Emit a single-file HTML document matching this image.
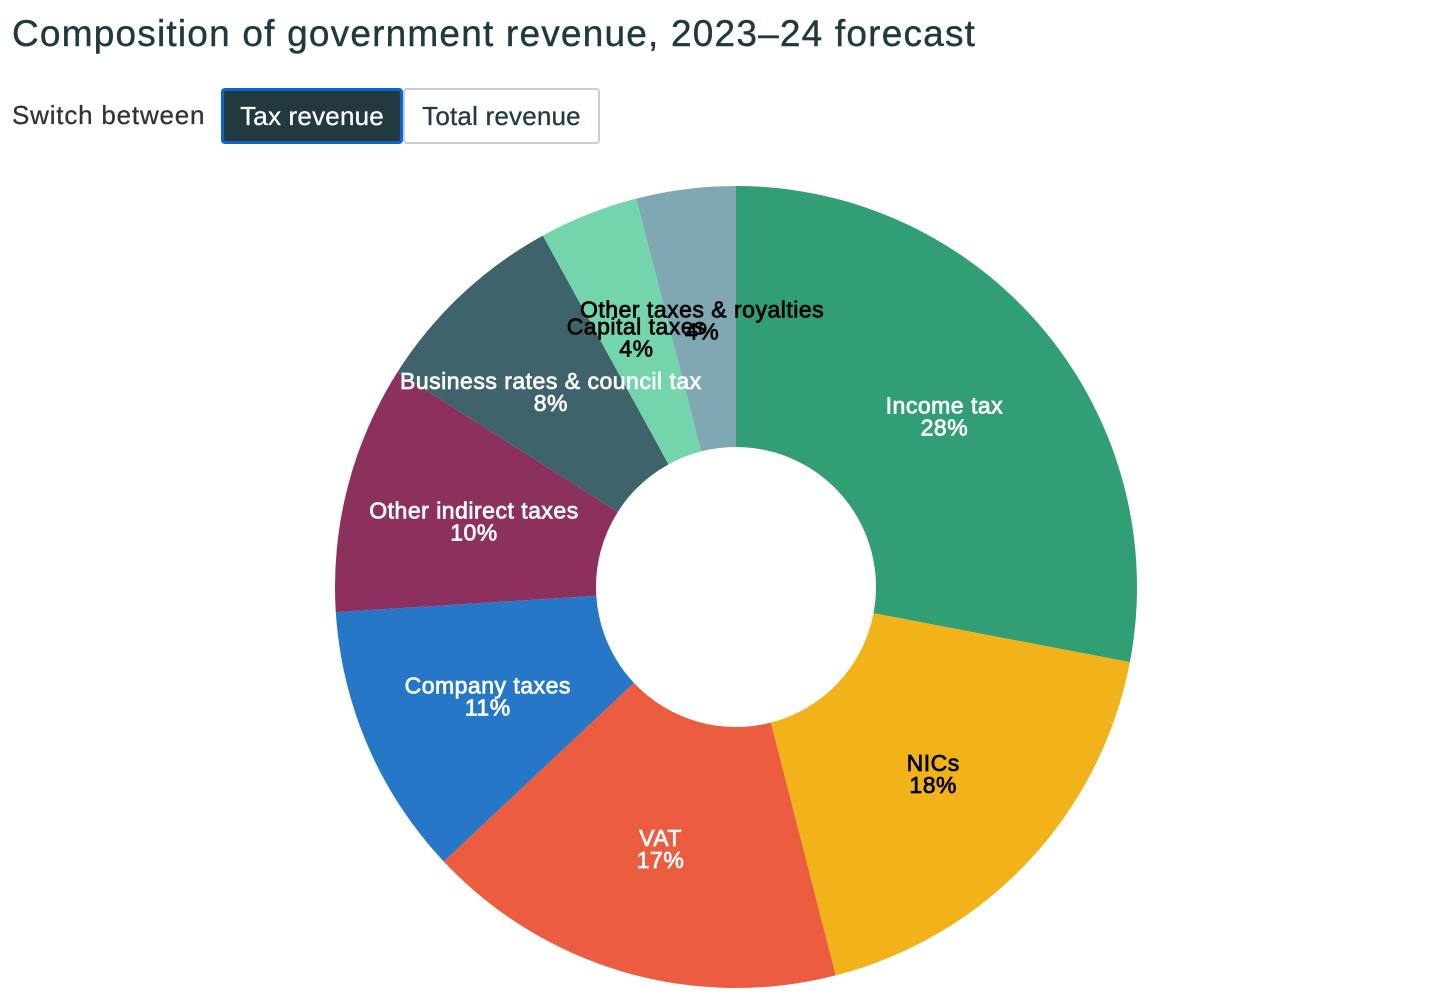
<!DOCTYPE html>
<html><head><meta charset="utf-8"><style>
body{margin:0;width:1452px;height:1008px;background:#fff;font-family:"Liberation Sans",Arial,sans-serif;color:#243b3f;overflow:hidden;position:relative}
h1{position:absolute;left:12px;top:13px;margin:0;font-size:37px;font-weight:normal;color:#1f3a3d;letter-spacing:1.2px;-webkit-text-stroke:0.4px #1f3a3d}
.sw{position:absolute;left:12px;top:100px;font-size:26px;color:#333;letter-spacing:0.8px;-webkit-text-stroke:0.3px #333}
.btn{position:absolute;top:88px;height:56px;box-sizing:border-box;font-size:26px;line-height:52px;text-align:center;border-radius:4px;font-family:"Liberation Sans",Arial,sans-serif;letter-spacing:0.2px}
#b1{left:221px;width:182px;background:#22393d;color:#fff;border:3px solid #0a64d6;line-height:50px;-webkit-text-stroke:0.3px #fff}
#b2{left:403px;width:197px;background:#fff;color:#243b3f;border:2px solid #ccc;-webkit-text-stroke:0.3px #243b3f}
svg{position:absolute;left:0;top:0}
text{font-family:"Liberation Sans",Arial,sans-serif;font-size:23px;text-anchor:middle;paint-order:stroke;letter-spacing:0.5px}
</style></head><body>
<h1>Composition of government revenue, 2023–24 forecast</h1>
<div class="sw">Switch between</div>
<div class="btn" id="b1">Tax revenue</div>
<div class="btn" id="b2">Total revenue</div>
<svg id="chart" width="1452" height="1008"></svg>
<script>
const categories=["Income tax","NICs","VAT","Company taxes","Other indirect taxes","Business rates & council tax","Capital taxes","Other taxes & royalties"];
const values=[28,18,17,11,10,8,4,4];
const colors=["#319f73","#f2b31a","#eb5c40","#2677c8","#8c315d","#3f636b","#74d5ad","#80a8b2"];
const labelColors=["#fff","#000","#fff","#fff","#fff","#fff","#000","#000"];
const cx=736,cy=587,R=401,r=140;
const svg=document.getElementById('chart');
const NS='http://www.w3.org/2000/svg';
const total=values.reduce((a,b)=>a+b,0);
function pt(a,rad){return [cx+rad*Math.sin(a),cy-rad*Math.cos(a)];}
let a0=0;
const labels=[];
values.forEach((v,i)=>{
  const a1=a0+v/total*2*Math.PI;
  const [x0,y0]=pt(a0,R),[x1,y1]=pt(a1,R),[x2,y2]=pt(a1,r),[x3,y3]=pt(a0,r);
  const lg=(a1-a0)>Math.PI?1:0;
  const p=document.createElementNS(NS,'path');
  p.setAttribute('d',`M${x0},${y0}A${R},${R} 0 ${lg} 1 ${x1},${y1}L${x2},${y2}A${r},${r} 0 ${lg} 0 ${x3},${y3}Z`);
  p.setAttribute('fill',colors[i]);
  
  
  svg.appendChild(p);
  labels.push([(a0+a1)/2,i]);
  a0=a1;
});
labels.forEach(([am,i])=>{
  const [x,y]=pt(am,(R+r)/2);
  const t=document.createElementNS(NS,'text');
  t.setAttribute('x',x);t.setAttribute('y',y-1);
  t.setAttribute('fill',labelColors[i]);
  t.setAttribute('stroke',labelColors[i]==="#fff"?"rgba(255,255,255,0.9)":"rgba(0,0,0,0.9)");
  t.setAttribute('stroke-width','0.8');
  
  
  const s1=document.createElementNS(NS,'tspan');s1.setAttribute('x',x);s1.textContent=categories[i];
  const s2=document.createElementNS(NS,'tspan');s2.setAttribute('x',x);s2.setAttribute('dy','22');s2.textContent=Math.round(values[i]/total*100)+'%';
  t.appendChild(s1);t.appendChild(s2);
  svg.appendChild(t);
});
</script>
</body></html>
